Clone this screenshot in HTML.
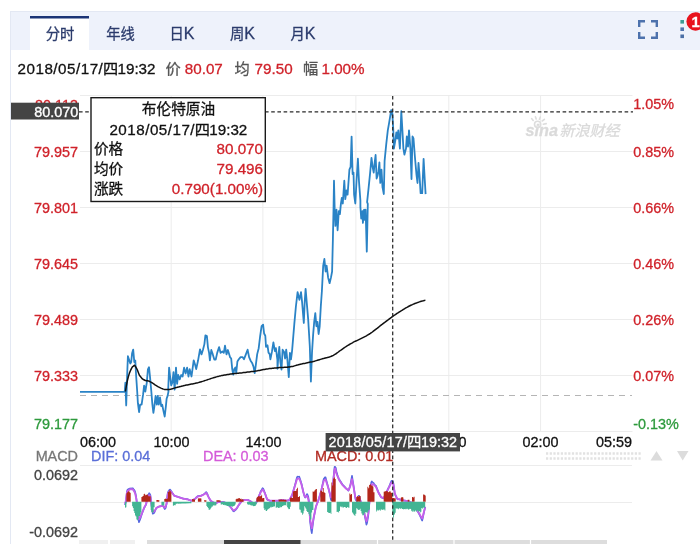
<!DOCTYPE html>
<html lang="zh"><head><meta charset="utf-8"><title>布伦特原油</title>
<style>
html,body{margin:0;padding:0;background:#fff;}
body{width:700px;height:544px;overflow:hidden;position:relative;font-family:"Liberation Sans","Noto Sans CJK SC",sans-serif;}
svg{position:absolute;left:0;top:0;display:block}
svg{font-family:"Liberation Sans","Noto Sans CJK SC",sans-serif;font-size:14.4px}
</style></head><body>
<svg width="700" height="544" viewBox="0 0 700 544">
<rect width="700" height="544" fill="#fff"/>
<!-- widget frame -->
<rect x="10.5" y="11.5" width="700" height="540" fill="#fff" stroke="#e3e8f3"/>
<rect x="11" y="12" width="689" height="38" fill="#eef2fb"/>
<!-- active tab -->
<rect x="30" y="16" width="59" height="35" fill="#fff"/>
<rect x="30" y="16" width="59" height="2.5" fill="#1b3476"/>
<g fill="#2b3b6c" text-anchor="middle" font-size="14.3" stroke="#2b3b6c" stroke-width="0.3">
<text x="60" y="38.8">分时</text>
<text x="120.5" y="38.8">年线</text>
<text x="182" y="38.8">日<tspan font-size="16">K</tspan></text>
<text x="242.5" y="38.8">周<tspan font-size="16">K</tspan></text>
<text x="303" y="38.8">月<tspan font-size="16">K</tspan></text>
</g>
<!-- fullscreen icon -->
<g fill="none" stroke="#4d72ad" stroke-width="2.4">
<path d="M639.2,27 V21.2 H645"/><path d="M651,21.2 H656.8 V27"/>
<path d="M639.2,32 V37.8 H645"/><path d="M651,37.8 H656.8 V32"/>
</g>
<rect x="680.4" y="20" width="3.6" height="3.6" fill="#3f9c94"/>
<rect x="680.4" y="27.4" width="3.6" height="3.6" fill="#5274ad"/>
<rect x="680.4" y="34.5" width="3.6" height="3.6" fill="#4c70a6"/>
<circle cx="695.6" cy="21.5" r="9.2" fill="#e8131d"/>
<text x="695.6" y="27" font-weight="bold" font-size="14.8" fill="#fff" text-anchor="middle" stroke="#fff" stroke-width="0.3">1</text>
<!-- info line -->
<g font-size="15.2">
<g font-size="15.2" fill="#111" stroke="#111" stroke-width="0.3"><text x="17.6" y="73.5" textLength="85.2" lengthAdjust="spacing">2018/05/17/</text><text x="102.9" y="73.5">四</text><text x="117.5" y="73.5">19:32</text></g>
<text x="165.5" y="73.5" fill="#555" stroke="#555" stroke-width="0.3">价</text>
<text x="184.8" y="73.5" fill="#d0222a" stroke="#d0222a" stroke-width="0.3">80.07</text>
<text x="234.5" y="73.5" fill="#555" stroke="#555" stroke-width="0.3">均</text>
<text x="254.6" y="73.5" fill="#d0222a" stroke="#d0222a" stroke-width="0.3">79.50</text>
<text x="303" y="73.5" fill="#555" stroke="#555" stroke-width="0.3">幅</text>
<text x="321.5" y="73.5" fill="#d0222a" stroke="#d0222a" stroke-width="0.3">1.00%</text>
</g>
<!-- grid -->
<g stroke="#ececec" stroke-width="1" fill="none">
<path d="M80,95.5H632.5 M80,151.5H632.5 M80,207.5H632.5 M80,263.5H632.5 M80,319.5H632.5 M80,375.5H632.5 M80,431.5H632.5"/>
<path d="M171.2,95V432 M262.9,95V432 M355.9,95V432 M448.8,95V432 M540.6,95V432"/>
<path d="M80,465.5H632 M80,502.5H632"/>
</g>
<!-- prev close dashed -->
<path d="M80,395.5H632" stroke="#b5b5b5" stroke-width="1.2" stroke-dasharray="6,5" fill="none"/>
<!-- left axis labels -->
<g fill="#d0222a" text-anchor="end" stroke="#d0222a" stroke-width="0.3">
<text x="78" y="110">80.113</text>
<text x="78" y="157.3">79.957</text>
<text x="78" y="213.2">79.801</text>
<text x="78" y="269.2">79.645</text>
<text x="78" y="325.2">79.489</text>
<text x="78" y="381.2">79.333</text>
<text x="78" y="428.9" fill="#2d9a3c" stroke="#2d9a3c" stroke-width="0.3">79.177</text>
</g>
<g fill="#d0222a" stroke="#d0222a" stroke-width="0.3">
<text x="633.3" y="109.3">1.05%</text>
<text x="633.3" y="157.3">0.85%</text>
<text x="633.3" y="213.2">0.66%</text>
<text x="633.3" y="269.2">0.46%</text>
<text x="633.3" y="325.2">0.26%</text>
<text x="633.3" y="381.2">0.07%</text>
<text x="633.3" y="428.9" fill="#2d9a3c" stroke="#2d9a3c" stroke-width="0.3">-0.13%</text>
</g>
<!-- time labels -->
<g fill="#111" stroke="#111" stroke-width="0.3">
<text x="80" y="446.7">06:00</text>
<text x="171.5" y="446.7" text-anchor="middle">10:00</text>
<text x="263.5" y="446.7" text-anchor="middle">14:00</text>
<text x="355.5" y="446.7" text-anchor="middle">18:00</text>
<text x="448.5" y="446.7" text-anchor="middle">22:00</text>
<text x="540.5" y="446.7" text-anchor="middle">02:00</text>
<text x="632" y="446.7" text-anchor="end">05:59</text>
</g>
<!-- watermark -->
<g fill="#dadada" stroke="#dadada" stroke-width="0.3">
<text x="525.5" y="136" font-size="17" font-weight="bold" font-style="italic" textLength="32.5" lengthAdjust="spacingAndGlyphs">sina</text>
<text x="559.5" y="136.3" font-size="15" transform="translate(560 136.3) skewX(-14) translate(-560 -136.3)">新浪财经</text>
</g>
<g fill="none" stroke="#dddddd" stroke-width="1.6" stroke-linecap="round">
<circle cx="537.6" cy="124.3" r="3.1"/>
<path d="M533.2,120.5 L531.6,118.6 M536.2,119 L535.4,116.8 M539.4,119.2 L540.3,117 M542.2,121 L544.4,119.3 M543.3,124.2 L546.2,123.6"/>
</g>
<!-- MACD legend -->
<text x="78" y="460.6" text-anchor="end" fill="#777" stroke="#777" stroke-width="0.3">MACD</text>
<text x="91" y="460.6" fill="#5a6fd8" stroke="#5a6fd8" stroke-width="0.3">DIF: 0.04</text>
<text x="203" y="460.6" fill="#d45bd9" stroke="#d45bd9" stroke-width="0.3">DEA: 0.03</text>
<text x="315" y="460.6" fill="#b22a22" stroke="#b22a22" stroke-width="0.3">MACD: 0.01</text>
<text x="78" y="480" text-anchor="end" fill="#444" stroke="#444" stroke-width="0.3">0.0692</text>
<text x="78" y="537" text-anchor="end" fill="#444" stroke="#444" stroke-width="0.3">-0.0692</text>
<!-- dotted handle + arrows -->
<path d="M546,453.5H641 M546,458.5H641" stroke="#e2e2e2" stroke-width="2.4" stroke-dasharray="2.2,1.5" fill="none"/>
<path d="M650.5,460.5 L656.5,451 L662.5,460.5Z" fill="#dcdcdc"/>
<path d="M677,451 L688.5,451 L682.7,460.5Z" fill="#dcdcdc"/>
<!-- MACD bars -->
<path d="M124.6,504.7 L125.2,504.0 L125.8,502.6 L126.4,496.9 L127.0,491.2 L127.6,489.6 L128.2,489.3 L128.8,489.0 L129.4,488.7 L130.0,488.4 L130.6,488.5 L131.2,488.5 L131.8,488.4 L132.4,488.3 L133.0,488.4 L133.6,489.3 L134.2,490.1 L134.8,490.9 L135.4,493.0 L136.0,495.8 L136.6,500.1 L137.2,506.0 L137.8,514.1 L138.4,519.1 L139.0,522.3 L139.6,520.8 L140.2,519.3 L140.8,517.4 L141.4,515.5 L142.0,513.8 L142.6,512.1 L143.2,510.5 L143.8,509.0 L144.4,507.5 L145.0,506.5 L145.6,505.4 L146.2,504.1 L146.8,500.2 L147.4,496.1 L148.0,495.1 L148.6,494.2 L149.2,493.2 L149.8,494.0 L150.4,495.1 L151.0,500.0 L151.6,506.0 L152.2,510.9 L152.8,513.8 L153.4,513.4 L154.0,513.0 L154.6,512.0 L155.2,510.5 L155.8,509.2 L156.4,507.9 L157.0,507.6 L157.6,507.3 L158.2,507.0 L158.8,506.7 L159.4,506.5 L160.0,506.4 L160.6,506.2 L161.2,506.1 L161.8,505.9 L162.4,505.8 L163.0,506.0 L163.6,506.9 L164.2,508.0 L164.8,509.1 L165.4,508.4 L166.0,506.7 L166.6,503.9 L167.2,498.2 L167.8,492.5 L168.4,491.3 L169.0,490.6 L169.6,489.8 L170.2,489.6 L170.8,490.5 L171.4,491.4 L172.0,492.1 L172.6,493.1 L173.2,494.0 L173.8,495.0 L174.4,495.8 L175.0,495.9 L175.6,496.1 L176.2,496.2 L176.8,496.4 L177.4,496.6 L178.0,496.8 L178.6,497.0 L179.2,497.2 L179.8,497.4 L180.4,497.6 L181.0,497.8 L181.6,498.0 L182.2,498.2 L182.8,498.5 L183.4,498.6 L184.0,498.7 L184.6,498.8 L185.2,498.8 L185.8,498.9 L186.4,499.0 L187.0,499.1 L187.6,499.3 L188.2,499.5 L188.8,499.8 L189.4,500.0 L190.0,500.3 L190.6,500.5 L191.2,500.8 L191.8,500.7 L192.4,500.3 L193.0,500.0 L193.6,499.6 L194.2,499.3 L194.8,498.8 L195.4,498.3 L196.0,497.7 L196.6,497.2 L197.2,496.6 L197.8,496.1 L198.4,496.0 L199.0,495.9 L199.6,495.8 L200.2,495.7 L200.8,495.7 L201.4,495.6 L202.0,495.2 L202.6,494.9 L203.2,494.6 L203.8,494.2 L204.4,493.8 L205.0,493.2 L205.6,492.6 L206.2,492.0 L206.8,492.7 L207.4,494.1 L208.0,495.6 L208.6,497.0 L209.2,498.2 L209.8,499.3 L210.4,500.4 L211.0,501.1 L211.6,501.5 L212.2,501.9 L212.8,502.3 L213.4,502.6 L214.0,502.9 L214.6,503.3 L215.2,503.8 L215.8,503.4 L216.4,503.0 L217.0,502.6 L217.6,502.2 L218.2,502.1 L218.8,502.1 L219.4,502.1 L220.0,502.1 L220.6,502.1 L221.2,502.1 L221.8,502.1 L222.4,502.1 L223.0,502.1 L223.6,502.1 L224.2,502.3 L224.8,502.6 L225.4,502.8 L226.0,503.1 L226.6,503.3 L227.2,503.5 L227.8,504.2 L228.4,504.9 L229.0,505.5 L229.6,506.1 L230.2,506.8 L230.8,507.4 L231.4,508.3 L232.0,509.2 L232.6,510.1 L233.2,511.1 L233.8,511.4 L234.4,510.8 L235.0,510.3 L235.6,509.8 L236.2,509.3 L236.8,508.5 L237.4,507.4 L238.0,506.4 L238.6,505.4 L239.2,504.5 L239.8,503.6 L240.4,502.8 L241.0,502.0 L241.6,501.1 L242.2,500.4 L242.8,500.3 L243.4,500.2 L244.0,500.1 L244.6,499.9 L245.2,499.8 L245.8,499.8 L246.4,499.8 L247.0,499.8 L247.6,499.8 L248.2,500.0 L248.8,500.3 L249.4,500.6 L250.0,501.0 L250.6,501.3 L251.2,501.8 L251.8,502.3 L252.4,502.9 L253.0,503.5 L253.6,504.0 L254.2,503.7 L254.8,503.4 L255.4,503.1 L256.0,502.9 L256.6,502.2 L257.2,500.6 L257.8,499.0 L258.4,497.5 L259.0,495.9 L259.6,494.3 L260.2,492.7 L260.8,491.1 L261.4,490.2 L262.0,489.2 L262.6,488.2 L263.2,488.6 L263.8,490.1 L264.4,491.6 L265.0,493.0 L265.6,494.9 L266.2,496.8 L266.8,498.7 L267.4,499.9 L268.0,500.0 L268.6,500.3 L269.2,500.5 L269.8,500.8 L270.4,500.8 L271.0,500.8 L271.6,500.7 L272.2,500.7 L272.8,500.7 L273.4,500.7 L274.0,500.7 L274.6,500.7 L275.2,500.7 L275.8,500.7 L276.4,500.7 L277.0,500.7 L277.6,500.7 L278.2,500.7 L278.8,500.5 L279.4,500.4 L280.0,500.3 L280.6,500.2 L281.2,500.0 L281.8,499.9 L282.4,499.9 L283.0,500.0 L283.6,500.2 L284.2,500.3 L284.8,500.4 L285.4,500.6 L286.0,500.7 L286.6,500.8 L287.2,500.6 L287.8,500.5 L288.4,500.5 L289.0,500.4 L289.6,499.8 L290.2,498.6 L290.8,497.5 L291.4,496.5 L292.0,495.4 L292.6,493.5 L293.2,491.4 L293.8,489.3 L294.4,487.1 L295.0,484.9 L295.6,482.7 L296.2,480.3 L296.8,477.9 L297.4,476.6 L298.0,476.7 L298.6,476.7 L299.2,476.6 L299.8,478.3 L300.4,480.1 L301.0,481.9 L301.6,483.9 L302.2,486.7 L302.8,489.5 L303.4,492.3 L304.0,494.6 L304.6,496.6 L305.2,497.6 L305.8,496.5 L306.4,495.3 L307.0,494.0 L307.6,494.9 L308.2,496.5 L308.8,500.1 L309.4,506.7 L310.0,521.2 L310.6,525.6 L311.2,530.1 L311.8,533.2 L312.4,528.2 L313.0,523.3 L313.6,518.9 L314.2,515.5 L314.8,512.3 L315.4,509.2 L316.0,506.2 L316.6,504.7 L317.2,503.2 L317.8,501.7 L318.4,500.2 L319.0,498.3 L319.6,496.2 L320.2,494.2 L320.8,492.0 L321.4,489.7 L322.0,487.0 L322.6,484.2 L323.2,481.3 L323.8,478.7 L324.4,478.1 L325.0,477.3 L325.6,477.4 L326.2,479.7 L326.8,481.9 L327.4,484.1 L328.0,486.4 L328.6,488.8 L329.2,491.4 L329.8,494.0 L330.4,497.0 L331.0,500.1 L331.6,500.3 L332.2,493.1 L332.8,485.8 L333.4,478.7 L334.0,471.9 L334.6,466.8 L335.2,466.8 L335.8,467.8 L336.4,471.2 L337.0,473.6 L337.6,475.4 L338.2,477.1 L338.8,478.6 L339.4,479.8 L340.0,480.6 L340.6,481.5 L341.2,482.5 L341.8,483.4 L342.4,484.3 L343.0,485.0 L343.6,485.6 L344.2,486.2 L344.8,486.9 L345.4,487.5 L346.0,488.2 L346.6,488.8 L347.2,489.3 L347.8,490.0 L348.4,490.7 L349.0,489.5 L349.6,487.6 L350.2,485.6 L350.8,482.5 L351.4,479.1 L352.0,475.7 L352.6,479.5 L353.2,483.3 L353.8,487.1 L354.4,491.7 L355.0,496.2 L355.6,499.6 L356.2,500.4 L356.8,501.1 L357.4,500.6 L358.0,498.1 L358.6,495.8 L359.2,496.0 L359.8,498.1 L360.4,500.2 L361.0,502.8 L361.6,505.6 L362.2,508.4 L362.8,510.1 L363.4,511.7 L364.0,513.5 L364.6,515.3 L365.2,518.0 L365.8,521.3 L366.4,524.7 L367.0,523.2 L367.6,519.8 L368.2,516.4 L368.8,509.7 L369.4,502.4 L370.0,495.1 L370.6,488.9 L371.2,482.7 L371.8,481.4 L372.4,482.0 L373.0,482.5 L373.6,483.0 L374.2,483.9 L374.8,484.7 L375.4,485.3 L376.0,485.9 L376.6,487.5 L377.2,489.1 L377.8,490.6 L378.4,492.2 L379.0,493.5 L379.6,494.5 L380.2,495.6 L380.8,496.8 L381.4,497.5 L382.0,497.7 L382.6,498.0 L383.2,498.3 L383.8,498.4 L384.4,496.9 L385.0,495.5 L385.6,494.1 L386.2,492.8 L386.8,491.5 L387.4,490.2 L388.0,488.9 L388.6,487.6 L389.2,486.3 L389.8,484.9 L390.4,483.4 L391.0,481.8 L391.6,480.7 L392.2,480.9 L392.8,481.1 L393.4,483.2 L394.0,487.7 L394.6,492.2 L395.2,494.8 L395.8,496.0 L396.4,497.3 L397.0,498.5 L397.6,499.4 L398.2,499.3 L398.8,499.3 L399.4,499.4 L400.0,499.5 L400.6,499.6 L401.2,499.7 L401.8,499.9 L402.4,500.0 L403.0,500.2 L403.6,500.4 L404.2,500.5 L404.8,500.6 L405.4,500.8 L406.0,500.9 L406.6,501.0 L407.2,501.1 L407.8,501.2 L408.4,501.3 L409.0,501.5 L409.6,501.8 L410.2,502.0 L410.8,502.3 L411.4,502.4 L412.0,502.6 L412.6,502.8 L413.2,503.5 L413.8,504.6 L414.4,505.6 L415.0,506.7 L415.6,507.7 L416.2,508.7 L416.8,509.7 L417.4,510.8 L418.0,511.9 L418.6,513.0 L419.2,514.2 L419.8,515.4 L420.4,516.7 L421.0,518.0 L421.6,519.3 L422.2,520.6 L422.8,518.1 L423.4,515.0 L424.0,512.0 L424.6,509.3 L425.2,506.7" fill="none" stroke="#5566e0" stroke-width="1.6" stroke-linejoin="round"/>
<path d="M124.6,503.5 L125.2,502.8 L125.8,501.5 L126.4,497.0 L127.0,492.5 L127.6,491.1 L128.2,490.6 L128.8,490.2 L129.4,489.7 L130.0,489.3 L130.6,489.3 L131.2,489.3 L131.8,489.3 L132.4,489.3 L133.0,489.5 L133.6,490.5 L134.2,491.5 L134.8,492.5 L135.4,494.6 L136.0,497.2 L136.6,500.9 L137.2,505.7 L137.8,512.2 L138.4,516.3 L139.0,519.1 L139.6,518.2 L140.2,517.3 L140.8,516.0 L141.4,514.6 L142.0,513.2 L142.6,511.7 L143.2,510.2 L143.8,508.7 L144.4,507.2 L145.0,506.1 L145.6,505.0 L146.2,503.7 L146.8,500.5 L147.4,497.3 L148.0,496.5 L148.6,495.9 L149.2,495.2 L149.8,495.9 L150.4,496.9 L151.0,500.7 L151.6,505.4 L152.2,509.3 L152.8,511.7 L153.4,511.6 L154.0,511.5 L154.6,510.9 L155.2,509.9 L155.8,508.9 L156.4,507.9 L157.0,507.6 L157.6,507.3 L158.2,507.0 L158.8,506.7 L159.4,506.4 L160.0,506.3 L160.6,506.2 L161.2,506.0 L161.8,505.9 L162.4,505.8 L163.0,505.9 L163.6,506.5 L164.2,507.1 L164.8,507.7 L165.4,506.9 L166.0,505.4 L166.6,503.0 L167.2,498.5 L167.8,494.0 L168.4,492.8 L169.0,492.0 L169.6,491.2 L170.2,490.9 L170.8,491.5 L171.4,492.1 L172.0,492.7 L172.6,493.5 L173.2,494.3 L173.8,495.1 L174.4,495.8 L175.0,496.0 L175.6,496.2 L176.2,496.4 L176.8,496.6 L177.4,496.8 L178.0,497.0 L178.6,497.2 L179.2,497.4 L179.8,497.6 L180.4,497.8 L181.0,498.0 L181.6,498.2 L182.2,498.4 L182.8,498.6 L183.4,498.7 L184.0,498.8 L184.6,498.9 L185.2,499.0 L185.8,499.1 L186.4,499.2 L187.0,499.3 L187.6,499.4 L188.2,499.6 L188.8,499.8 L189.4,500.0 L190.0,500.2 L190.6,500.4 L191.2,500.6 L191.8,500.5 L192.4,500.2 L193.0,499.9 L193.6,499.6 L194.2,499.3 L194.8,498.9 L195.4,498.4 L196.0,497.9 L196.6,497.4 L197.2,497.0 L197.8,496.5 L198.4,496.3 L199.0,496.2 L199.6,496.1 L200.2,496.0 L200.8,495.8 L201.4,495.7 L202.0,495.4 L202.6,495.1 L203.2,494.8 L203.8,494.5 L204.4,494.2 L205.0,493.8 L205.6,493.4 L206.2,493.0 L206.8,493.6 L207.4,494.8 L208.0,496.0 L208.6,497.2 L209.2,498.2 L209.8,499.2 L210.4,500.2 L211.0,500.9 L211.6,501.3 L212.2,501.7 L212.8,502.1 L213.4,502.4 L214.0,502.7 L214.6,503.0 L215.2,503.5 L215.8,503.2 L216.4,502.9 L217.0,502.6 L217.6,502.3 L218.2,502.1 L218.8,502.1 L219.4,502.1 L220.0,502.1 L220.6,502.1 L221.2,502.1 L221.8,502.1 L222.4,502.1 L223.0,502.1 L223.6,502.2 L224.2,502.4 L224.8,502.6 L225.4,502.9 L226.0,503.1 L226.6,503.4 L227.2,503.6 L227.8,504.2 L228.4,504.8 L229.0,505.4 L229.6,506.0 L230.2,506.6 L230.8,507.2 L231.4,508.0 L232.0,508.7 L232.6,509.5 L233.2,510.2 L233.8,510.5 L234.4,510.1 L235.0,509.6 L235.6,509.2 L236.2,508.7 L236.8,508.0 L237.4,507.1 L238.0,506.2 L238.6,505.3 L239.2,504.4 L239.8,503.6 L240.4,502.9 L241.0,502.1 L241.6,501.4 L242.2,500.7 L242.8,500.6 L243.4,500.4 L244.0,500.3 L244.6,500.1 L245.2,500.0 L245.8,500.0 L246.4,500.0 L247.0,500.0 L247.6,500.0 L248.2,500.2 L248.8,500.5 L249.4,500.8 L250.0,501.1 L250.6,501.4 L251.2,501.8 L251.8,502.2 L252.4,502.7 L253.0,503.1 L253.6,503.6 L254.2,503.3 L254.8,503.0 L255.4,502.7 L256.0,502.4 L256.6,501.7 L257.2,500.3 L257.8,498.9 L258.4,497.5 L259.0,496.1 L259.6,494.7 L260.2,493.3 L260.8,492.0 L261.4,491.2 L262.0,490.4 L262.6,489.6 L263.2,490.0 L263.8,491.2 L264.4,492.4 L265.0,493.6 L265.6,495.2 L266.2,496.8 L266.8,498.4 L267.4,499.4 L268.0,499.7 L268.6,500.0 L269.2,500.3 L269.8,500.6 L270.4,500.7 L271.0,500.7 L271.6,500.7 L272.2,500.7 L272.8,500.7 L273.4,500.7 L274.0,500.7 L274.6,500.7 L275.2,500.7 L275.8,500.7 L276.4,500.7 L277.0,500.7 L277.6,500.7 L278.2,500.7 L278.8,500.6 L279.4,500.5 L280.0,500.4 L280.6,500.3 L281.2,500.2 L281.8,500.1 L282.4,500.0 L283.0,500.1 L283.6,500.2 L284.2,500.3 L284.8,500.4 L285.4,500.5 L286.0,500.6 L286.6,500.7 L287.2,500.5 L287.8,500.4 L288.4,500.2 L289.0,500.1 L289.6,499.5 L290.2,498.4 L290.8,497.4 L291.4,496.3 L292.0,495.3 L292.6,493.5 L293.2,491.6 L293.8,489.6 L294.4,487.7 L295.0,485.7 L295.6,483.7 L296.2,481.7 L296.8,479.7 L297.4,478.6 L298.0,478.6 L298.6,478.6 L299.2,478.6 L299.8,479.9 L300.4,481.5 L301.0,483.1 L301.6,485.0 L302.2,487.4 L302.8,489.8 L303.4,492.2 L304.0,494.1 L304.6,495.9 L305.2,497.0 L305.8,496.6 L306.4,496.2 L307.0,495.8 L307.6,497.1 L308.2,498.9 L308.8,502.0 L309.4,507.4 L310.0,518.6 L310.6,522.2 L311.2,525.8 L311.8,528.3 L312.4,524.7 L313.0,521.1 L313.6,517.8 L314.2,515.0 L314.8,512.2 L315.4,509.4 L316.0,506.6 L316.6,505.0 L317.2,503.4 L317.8,501.8 L318.4,500.2 L319.0,498.3 L319.6,496.3 L320.2,494.3 L320.8,492.3 L321.4,490.1 L322.0,487.7 L322.6,485.3 L323.2,482.9 L323.8,480.8 L324.4,480.2 L325.0,479.6 L325.6,479.7 L326.2,481.5 L326.8,483.3 L327.4,485.1 L328.0,487.1 L328.6,489.1 L329.2,491.1 L329.8,493.2 L330.4,495.3 L331.0,497.4 L331.6,497.2 L332.2,491.5 L332.8,485.8 L333.4,480.3 L334.0,474.9 L334.6,469.5 L335.2,468.5 L335.8,470.9 L336.4,473.3 L337.0,475.0 L337.6,476.4 L338.2,477.8 L338.8,479.2 L339.4,480.4 L340.0,481.3 L340.6,482.2 L341.2,483.1 L341.8,484.0 L342.4,484.9 L343.0,485.6 L343.6,486.2 L344.2,486.8 L344.8,487.4 L345.4,488.0 L346.0,488.6 L346.6,489.0 L347.2,489.4 L347.8,489.8 L348.4,490.2 L349.0,489.2 L349.6,487.7 L350.2,486.2 L350.8,483.9 L351.4,481.5 L352.0,479.1 L352.6,482.1 L353.2,485.1 L353.8,488.2 L354.4,491.8 L355.0,495.4 L355.6,498.3 L356.2,499.2 L356.8,500.1 L357.4,499.9 L358.0,498.4 L358.6,496.9 L359.2,497.3 L359.8,499.1 L360.4,500.9 L361.0,503.1 L361.6,505.5 L362.2,507.9 L362.8,509.7 L363.4,511.3 L364.0,512.9 L364.6,514.5 L365.2,516.5 L365.8,518.9 L366.4,521.3 L367.0,519.9 L367.6,516.9 L368.2,513.9 L368.8,508.3 L369.4,502.3 L370.0,496.3 L370.6,491.0 L371.2,485.8 L371.8,484.3 L372.4,484.3 L373.0,484.3 L373.6,484.5 L374.2,485.1 L374.8,485.7 L375.4,486.3 L376.0,486.9 L376.6,488.3 L377.2,489.7 L377.8,491.1 L378.4,492.5 L379.0,493.6 L379.6,494.6 L380.2,495.6 L380.8,496.6 L381.4,497.2 L382.0,497.4 L382.6,497.6 L383.2,497.8 L383.8,497.8 L384.4,496.6 L385.0,495.4 L385.6,494.2 L386.2,493.0 L386.8,491.8 L387.4,490.6 L388.0,489.4 L388.6,488.2 L389.2,487.0 L389.8,485.8 L390.4,484.6 L391.0,483.4 L391.6,482.7 L392.2,483.0 L392.8,483.3 L393.4,485.0 L394.0,488.6 L394.6,492.2 L395.2,494.4 L395.8,495.6 L396.4,496.8 L397.0,498.0 L397.6,498.9 L398.2,499.1 L398.8,499.2 L399.4,499.4 L400.0,499.5 L400.6,499.7 L401.2,499.8 L401.8,500.0 L402.4,500.1 L403.0,500.3 L403.6,500.4 L404.2,500.6 L404.8,500.7 L405.4,500.8 L406.0,500.9 L406.6,501.0 L407.2,501.2 L407.8,501.3 L408.4,501.4 L409.0,501.6 L409.6,501.8 L410.2,502.1 L410.8,502.3 L411.4,502.6 L412.0,502.8 L412.6,503.0 L413.2,503.7 L413.8,504.7 L414.4,505.6 L415.0,506.6 L415.6,507.5 L416.2,508.5 L416.8,509.5 L417.4,510.4 L418.0,511.5 L418.6,512.5 L419.2,513.6 L419.8,514.6 L420.4,515.7 L421.0,516.6 L421.6,517.5 L422.2,518.4 L422.8,516.5 L423.4,514.1 L424.0,511.7 L424.6,509.6 L425.2,507.4" fill="none" stroke="#c560ea" stroke-width="1.9" stroke-linejoin="round"/>
<path d="M126.4,501.8 L126.4,493.2 L127.1,493.2 L127.1,492.3 L127.9,492.3 L127.9,491.4 L128.6,491.4 L128.6,501.8Z M128.6,501.8 L128.6,491.1 L129.3,491.1 L129.3,492.3 L130.0,492.3 L130.0,492.7 L130.7,492.7 L130.7,501.8Z M141.4,501.8 L141.4,497.1 L142.1,497.1 L142.1,496.6 L142.9,496.6 L142.9,496.1 L143.6,496.1 L143.6,501.8Z M143.6,501.8 L143.6,494.3 L144.3,494.3 L144.3,493.8 L145.0,493.8 L145.0,495.2 L145.7,495.2 L145.7,494.6 L146.4,494.6 L146.4,494.9 L147.1,494.9 L147.1,494.4 L147.9,494.4 L147.9,501.8Z M147.9,501.8 L147.9,495.8 L148.6,495.8 L148.6,496.5 L149.3,496.5 L149.3,496.3 L150.0,496.3 L150.0,496.2 L150.7,496.2 L150.7,501.8Z M156.4,501.8 L156.4,499.9 L157.1,499.9 L157.1,499.9 L157.9,499.9 L157.9,500.2 L158.6,500.2 L158.6,499.9 L159.3,499.9 L159.3,501.8Z M164.3,501.8 L164.3,498.9 L165.0,498.9 L165.0,498.6 L165.7,498.6 L165.7,498.9 L166.4,498.9 L166.4,499.0 L167.1,499.0 L167.1,498.4 L167.9,498.4 L167.9,501.8Z M167.9,501.8 L167.9,491.8 L168.6,491.8 L168.6,491.9 L169.3,491.9 L169.3,490.3 L170.0,490.3 L170.0,490.7 L170.7,490.7 L170.7,492.2 L171.4,492.2 L171.4,501.8Z M192.1,501.8 L192.1,499.1 L192.9,499.1 L192.9,499.3 L193.6,499.3 L193.6,499.3 L194.3,499.3 L194.3,499.5 L195.0,499.5 L195.0,501.8Z M197.9,501.8 L197.9,498.3 L198.6,498.3 L198.6,498.4 L199.3,498.4 L199.3,498.2 L200.0,498.2 L200.0,498.2 L200.7,498.2 L200.7,498.6 L201.4,498.6 L201.4,501.8Z M204.3,501.8 L204.3,500.1 L205.0,500.1 L205.0,500.2 L205.7,500.2 L205.7,500.2 L206.4,500.2 L206.4,501.8Z M216.4,501.8 L216.4,500.2 L217.1,500.2 L217.1,500.2 L217.9,500.2 L217.9,500.1 L218.6,500.1 L218.6,500.4 L219.3,500.4 L219.3,500.2 L220.0,500.2 L220.0,500.4 L220.7,500.4 L220.7,501.8Z M235.7,501.8 L235.7,499.3 L236.4,499.3 L236.4,498.7 L237.1,498.7 L237.1,498.7 L237.9,498.7 L237.9,498.5 L238.6,498.5 L238.6,498.1 L239.3,498.1 L239.3,501.8Z M239.3,501.8 L239.3,498.2 L240.0,498.2 L240.0,499.0 L240.7,499.0 L240.7,498.6 L241.4,498.6 L241.4,499.4 L242.1,499.4 L242.1,499.3 L242.9,499.3 L242.9,499.5 L243.6,499.5 L243.6,501.8Z M256.4,501.8 L256.4,497.8 L257.1,497.8 L257.1,497.0 L257.9,497.0 L257.9,501.8Z M257.9,501.8 L257.9,496.3 L258.6,496.3 L258.6,495.9 L259.3,495.9 L259.3,496.5 L260.0,496.5 L260.0,496.3 L260.7,496.3 L260.7,496.0 L261.4,496.0 L261.4,494.8 L262.1,494.8 L262.1,501.8Z M262.1,501.8 L262.1,498.3 L262.9,498.3 L262.9,498.0 L263.6,498.0 L263.6,498.0 L264.3,498.0 L264.3,501.8Z M272.1,501.8 L272.1,499.9 L272.9,499.9 L272.9,500.1 L273.6,500.1 L273.6,500.1 L274.3,500.1 L274.3,500.0 L275.0,500.0 L275.0,501.8Z M278.6,501.8 L278.6,499.5 L279.4,499.5 L279.4,499.8 L280.1,499.8 L280.1,499.6 L280.9,499.6 L280.9,499.5 L281.7,499.5 L281.7,499.5 L282.5,499.5 L282.5,499.9 L283.3,499.9 L283.3,499.5 L284.1,499.5 L284.1,499.9 L284.9,499.9 L284.9,499.8 L285.6,499.8 L285.6,499.7 L286.4,499.7 L286.4,501.8Z M290.0,501.8 L290.0,497.6 L290.7,497.6 L290.7,498.1 L291.4,498.1 L291.4,497.6 L292.1,497.6 L292.1,497.9 L292.9,497.9 L292.9,501.8Z M292.9,501.8 L292.9,491.4 L293.6,491.4 L293.6,491.1 L294.3,491.1 L294.3,491.1 L295.0,491.1 L295.0,491.1 L295.7,491.1 L295.7,490.7 L296.4,490.7 L296.4,488.9 L297.1,488.9 L297.1,487.7 L297.9,487.7 L297.9,501.8Z M297.9,501.8 L297.9,497.0 L298.6,497.0 L298.6,497.1 L299.3,497.1 L299.3,496.0 L300.0,496.0 L300.0,501.8Z M312.6,501.8 L312.6,491.4 L313.4,491.4 L313.4,491.7 L314.3,491.7 L314.3,501.8Z M314.3,501.8 L314.3,490.5 L315.1,490.5 L315.1,489.5 L316.0,489.5 L316.0,488.9 L316.9,488.9 L316.9,501.8Z M320.3,501.8 L320.3,490.7 L321.1,490.7 L321.1,490.8 L322.0,490.8 L322.0,491.8 L322.9,491.8 L322.9,501.8Z M322.9,501.8 L322.9,487.9 L323.7,487.9 L323.7,492.2 L324.6,492.2 L324.6,493.0 L325.4,493.0 L325.4,501.8Z M331.4,501.8 L331.4,482.6 L332.3,482.6 L332.3,485.5 L333.1,485.5 L333.1,501.8Z M333.1,501.8 L333.1,478.4 L334.0,478.4 L334.0,477.4 L334.9,477.4 L334.9,479.1 L335.7,479.1 L335.7,501.8Z M349.4,501.8 L349.4,493.4 L350.3,493.4 L350.3,494.7 L351.1,494.7 L351.1,494.1 L352.0,494.1 L352.0,501.8Z M356.3,501.8 L356.3,496.9 L357.0,496.9 L357.0,496.0 L357.7,496.0 L357.7,496.7 L358.4,496.7 L358.4,496.5 L359.1,496.5 L359.1,495.8 L359.9,495.8 L359.9,496.0 L360.6,496.0 L360.6,501.8Z M367.4,501.8 L367.4,486.7 L368.3,486.7 L368.3,488.3 L369.1,488.3 L369.1,501.8Z M369.1,501.8 L369.1,484.9 L369.9,484.9 L369.9,484.0 L370.6,484.0 L370.6,485.0 L371.3,485.0 L371.3,485.8 L372.0,485.8 L372.0,485.4 L372.7,485.4 L372.7,486.5 L373.4,486.5 L373.4,501.8Z M373.4,501.8 L373.4,492.2 L374.5,492.2 L374.5,501.8Z M383.7,501.8 L383.7,491.8 L384.6,491.8 L384.6,491.2 L385.4,491.2 L385.4,491.3 L386.3,491.3 L386.3,490.9 L387.1,490.9 L387.1,501.8Z M387.1,501.8 L387.1,491.2 L387.9,491.2 L387.9,492.2 L388.6,492.2 L388.6,492.1 L389.3,492.1 L389.3,491.2 L390.1,491.2 L390.1,491.4 L390.8,491.4 L390.8,492.9 L391.6,492.9 L391.6,492.4 L392.3,492.4 L392.3,501.8Z M392.3,501.8 L392.3,497.9 L393.1,497.9 L393.1,498.1 L394.0,498.1 L394.0,498.2 L394.9,498.2 L394.9,498.2 L395.7,498.2 L395.7,501.8Z M400.9,501.8 L400.9,497.4 L401.7,497.4 L401.7,497.1 L402.6,497.1 L402.6,497.5 L403.4,497.5 L403.4,501.8Z M407.7,501.8 L407.7,499.8 L408.6,499.8 L408.6,499.7 L409.4,499.7 L409.4,501.8Z M412.0,501.8 L412.0,497.1 L412.9,497.1 L412.9,497.5 L413.7,497.5 L413.7,496.8 L414.6,496.8 L414.6,501.8Z M423.1,501.8 L423.1,494.6 L424.0,494.6 L424.0,494.7 L424.9,494.7 L424.9,495.6 L425.7,495.6 L425.7,501.8Z " fill="#b3261a"/>
<path d="M125.0,501.8 L125.0,507.7 L125.7,507.7 L125.7,507.3 L126.4,507.3 L126.4,501.8Z M132.1,501.8 L132.1,506.2 L132.9,506.2 L132.9,508.1 L133.6,508.1 L133.6,511.0 L134.3,511.0 L134.3,512.9 L135.0,512.9 L135.0,515.6 L135.7,515.6 L135.7,516.4 L136.4,516.4 L136.4,519.6 L137.1,519.6 L137.1,501.8Z M137.1,501.8 L137.1,520.3 L137.9,520.3 L137.9,519.1 L138.6,519.1 L138.6,515.9 L139.3,515.9 L139.3,515.9 L140.0,515.9 L140.0,514.4 L140.7,514.4 L140.7,512.3 L141.4,512.3 L141.4,501.8Z M150.7,501.8 L150.7,510.1 L151.4,510.1 L151.4,512.1 L152.1,512.1 L152.1,513.0 L152.9,513.0 L152.9,501.8Z M152.9,501.8 L152.9,511.9 L153.7,511.9 L153.7,507.2 L154.6,507.2 L154.6,501.8Z M161.4,501.8 L161.4,505.2 L162.1,505.2 L162.1,505.5 L162.9,505.5 L162.9,505.3 L163.6,505.3 L163.6,505.7 L164.3,505.7 L164.3,501.8Z M172.9,501.8 L172.9,505.7 L173.6,505.7 L173.6,505.5 L174.3,505.5 L174.3,504.9 L175.0,504.9 L175.0,505.2 L175.7,505.2 L175.7,501.8Z M175.7,501.8 L175.7,503.7 L176.5,503.7 L176.5,503.7 L177.3,503.7 L177.3,503.6 L178.1,503.6 L178.1,503.7 L178.9,503.7 L178.9,503.7 L179.6,503.7 L179.6,503.6 L180.4,503.6 L180.4,503.7 L181.2,503.7 L181.2,503.4 L182.0,503.4 L182.0,503.4 L182.8,503.4 L182.8,503.5 L183.6,503.5 L183.6,503.6 L184.4,503.6 L184.4,503.4 L185.1,503.4 L185.1,503.6 L185.9,503.6 L185.9,503.5 L186.7,503.5 L186.7,503.3 L187.5,503.3 L187.5,503.4 L188.3,503.4 L188.3,503.3 L189.1,503.3 L189.1,503.3 L189.9,503.3 L189.9,503.3 L190.6,503.3 L190.6,503.3 L191.4,503.3 L191.4,501.8Z M206.4,501.8 L206.4,505.9 L207.1,505.9 L207.1,507.0 L207.9,507.0 L207.9,507.9 L208.6,507.9 L208.6,509.8 L209.3,509.8 L209.3,501.8Z M209.3,501.8 L209.3,509.7 L210.0,509.7 L210.0,509.2 L210.7,509.2 L210.7,508.1 L211.4,508.1 L211.4,506.7 L212.1,506.7 L212.1,506.5 L212.9,506.5 L212.9,501.8Z M212.9,501.8 L212.9,505.2 L213.5,505.2 L213.5,505.5 L214.2,505.5 L214.2,505.4 L214.9,505.4 L214.9,501.8Z M215.0,501.8 L215.0,505.5 L215.7,505.5 L215.7,505.3 L216.4,505.3 L216.4,501.8Z M220.7,501.8 L220.7,504.5 L221.5,504.5 L221.5,504.4 L222.2,504.4 L222.2,504.3 L223.0,504.3 L223.0,504.9 L223.8,504.9 L223.8,504.7 L224.5,504.7 L224.5,505.2 L225.3,505.2 L225.3,505.2 L226.0,505.2 L226.0,505.5 L226.8,505.5 L226.8,506.0 L227.6,506.0 L227.6,506.1 L228.3,506.1 L228.3,505.9 L229.1,505.9 L229.1,506.4 L229.9,506.4 L229.9,506.4 L230.6,506.4 L230.6,506.3 L231.4,506.3 L231.4,506.2 L232.1,506.2 L232.1,501.8Z M232.1,501.8 L232.1,506.8 L232.9,506.8 L232.9,506.2 L233.6,506.2 L233.6,506.0 L234.3,506.0 L234.3,505.4 L235.0,505.4 L235.0,504.6 L235.7,504.6 L235.7,501.8Z M247.1,501.8 L247.1,504.2 L247.9,504.2 L247.9,504.8 L248.7,504.8 L248.7,504.4 L249.5,504.4 L249.5,504.7 L250.3,504.7 L250.3,505.2 L251.1,505.2 L251.1,505.4 L251.9,505.4 L251.9,505.3 L252.6,505.3 L252.6,505.9 L253.4,505.9 L253.4,506.3 L254.2,506.3 L254.2,506.1 L255.0,506.1 L255.0,501.8Z M255.0,501.8 L255.0,505.7 L255.9,505.7 L255.9,504.5 L256.7,504.5 L256.7,501.8Z M263.6,501.8 L263.6,508.3 L264.3,508.3 L264.3,509.9 L265.0,509.9 L265.0,509.5 L265.7,509.5 L265.7,511.1 L266.4,511.1 L266.4,501.8Z M266.4,501.8 L266.4,511.0 L267.1,511.0 L267.1,509.8 L267.9,509.8 L267.9,508.7 L268.6,508.7 L268.6,509.3 L269.3,509.3 L269.3,508.1 L270.0,508.1 L270.0,507.4 L270.7,507.4 L270.7,501.8Z M270.7,501.8 L270.7,506.7 L271.4,506.7 L271.4,507.5 L272.1,507.5 L272.1,506.9 L272.9,506.9 L272.9,506.6 L273.6,506.6 L273.6,506.7 L274.3,506.7 L274.3,506.3 L275.0,506.3 L275.0,501.8Z M275.7,501.8 L275.7,507.8 L276.5,507.8 L276.5,507.5 L277.3,507.5 L277.3,507.3 L278.1,507.3 L278.1,507.9 L278.9,507.9 L278.9,507.9 L279.7,507.9 L279.7,506.8 L280.5,506.8 L280.5,507.4 L281.3,507.4 L281.3,507.0 L282.1,507.0 L282.1,501.8Z M282.1,501.8 L282.1,505.9 L282.9,505.9 L282.9,505.8 L283.6,505.8 L283.6,505.3 L284.3,505.3 L284.3,505.2 L285.0,505.2 L285.0,505.1 L285.7,505.1 L285.7,505.7 L286.4,505.7 L286.4,501.8Z M287.1,501.8 L287.1,507.2 L287.9,507.2 L287.9,508.5 L288.6,508.5 L288.6,509.2 L289.3,509.2 L289.3,501.8Z M289.3,501.8 L289.3,508.9 L290.0,508.9 L290.0,506.8 L290.7,506.8 L290.7,501.8Z M299.3,501.8 L299.3,509.5 L300.0,509.5 L300.0,509.7 L300.7,509.7 L300.7,512.4 L301.4,512.4 L301.4,512.7 L302.1,512.7 L302.1,514.7 L302.9,514.7 L302.9,501.8Z M302.9,501.8 L302.9,513.5 L303.6,513.5 L303.6,510.7 L304.3,510.7 L304.3,501.8Z M304.3,501.8 L304.3,506.3 L305.0,506.3 L305.0,507.6 L305.7,507.6 L305.7,508.8 L306.4,508.8 L306.4,510.9 L307.1,510.9 L307.1,501.8Z M307.1,501.8 L307.1,512.0 L307.8,512.0 L307.8,512.0 L308.5,512.0 L308.5,513.9 L309.2,513.9 L309.2,515.8 L309.9,515.8 L309.9,501.8Z M310.0,501.8 L310.0,519.6 L310.7,519.6 L310.7,519.5 L311.4,519.5 L311.4,501.8Z M311.4,501.8 L311.4,512.5 L312.1,512.5 L312.1,510.0 L312.7,510.0 L312.7,510.1 L313.4,510.1 L313.4,501.8Z M327.1,501.8 L327.1,512.1 L327.9,512.1 L327.9,512.6 L328.6,512.6 L328.6,513.1 L329.3,513.1 L329.3,513.1 L330.0,513.1 L330.0,512.8 L330.7,512.8 L330.7,514.1 L331.4,514.1 L331.4,501.8Z M336.6,501.8 L336.6,511.9 L337.4,511.9 L337.4,511.7 L338.3,511.7 L338.3,512.5 L339.1,512.5 L339.1,510.9 L340.0,510.9 L340.0,501.8Z M340.0,501.8 L340.0,506.6 L340.8,506.6 L340.8,507.3 L341.6,507.3 L341.6,506.5 L342.4,506.5 L342.4,507.5 L343.1,507.5 L343.1,507.4 L343.9,507.4 L343.9,507.1 L344.7,507.1 L344.7,507.0 L345.5,507.0 L345.5,507.7 L346.3,507.7 L346.3,508.0 L347.1,508.0 L347.1,507.1 L347.9,507.1 L347.9,507.6 L348.6,507.6 L348.6,507.8 L349.4,507.8 L349.4,501.8Z M352.0,501.8 L352.0,512.4 L352.9,512.4 L352.9,513.8 L353.7,513.8 L353.7,515.1 L354.6,515.1 L354.6,501.8Z M354.6,501.8 L354.6,516.1 L355.4,516.1 L355.4,513.7 L356.3,513.7 L356.3,501.8Z M356.3,501.8 L356.3,508.3 L357.0,508.3 L357.0,508.7 L357.7,508.7 L357.7,509.8 L358.4,509.8 L358.4,509.9 L359.1,509.9 L359.1,509.8 L359.9,509.8 L359.9,508.8 L360.6,508.8 L360.6,501.8Z M360.6,501.8 L360.6,511.0 L361.4,511.0 L361.4,513.4 L362.3,513.4 L362.3,515.3 L363.1,515.3 L363.1,501.8Z M363.1,501.8 L363.1,515.0 L363.9,515.0 L363.9,512.7 L364.7,512.7 L364.7,514.3 L365.4,514.3 L365.4,512.1 L366.2,512.1 L366.2,512.6 L367.0,512.6 L367.0,512.7 L367.7,512.7 L367.7,511.6 L368.5,511.6 L368.5,509.9 L369.2,509.9 L369.2,509.6 L370.0,509.6 L370.0,501.8Z M376.0,501.8 L376.0,511.4 L376.8,511.4 L376.8,509.8 L377.6,509.8 L377.6,510.7 L378.4,510.7 L378.4,510.3 L379.1,510.3 L379.1,509.8 L379.9,509.8 L379.9,510.7 L380.7,510.7 L380.7,509.5 L381.5,509.5 L381.5,509.6 L382.3,509.6 L382.3,510.1 L383.1,510.1 L383.1,509.5 L383.9,509.5 L383.9,509.4 L384.6,509.4 L384.6,510.4 L385.4,510.4 L385.4,501.8Z M392.3,501.8 L392.3,514.8 L393.1,514.8 L393.1,517.4 L394.0,517.4 L394.0,501.8Z M394.0,501.8 L394.0,514.6 L394.9,514.6 L394.9,512.7 L395.7,512.7 L395.7,501.8Z M395.7,501.8 L395.7,508.2 L396.5,508.2 L396.5,508.7 L397.3,508.7 L397.3,508.5 L398.0,508.5 L398.0,509.3 L398.8,509.3 L398.8,508.5 L399.6,508.5 L399.6,508.0 L400.3,508.0 L400.3,509.1 L401.1,509.1 L401.1,508.2 L401.9,508.2 L401.9,509.1 L402.7,509.1 L402.7,508.9 L403.4,508.9 L403.4,509.6 L404.2,509.6 L404.2,509.1 L405.0,509.1 L405.0,509.2 L405.7,509.2 L405.7,508.7 L406.5,508.7 L406.5,509.2 L407.3,509.2 L407.3,508.8 L408.1,508.8 L408.1,509.7 L408.8,509.7 L408.8,509.3 L409.6,509.3 L409.6,508.7 L410.4,508.7 L410.4,508.9 L411.1,508.9 L411.1,501.8Z M411.1,501.8 L411.1,510.8 L411.9,510.8 L411.9,511.7 L412.7,511.7 L412.7,510.5 L413.5,510.5 L413.5,511.7 L414.3,511.7 L414.3,511.6 L415.1,511.6 L415.1,510.5 L415.9,510.5 L415.9,511.8 L416.7,511.8 L416.7,510.6 L417.5,510.6 L417.5,510.7 L418.3,510.7 L418.3,511.8 L419.1,511.8 L419.1,511.0 L419.8,511.0 L419.8,512.5 L420.6,512.5 L420.6,511.7 L421.4,511.7 L421.4,501.8Z M421.4,501.8 L421.4,508.1 L422.2,508.1 L422.2,508.7 L422.9,508.7 L422.9,507.4 L423.7,507.4 L423.7,508.3 L424.4,508.3 L424.4,507.2 L425.2,507.2 L425.2,501.8Z " fill="#42b493"/>
<!-- price lines -->
<path d="M80.0,391.8 L124.7,391.8 L125.4,382.6 L126.2,405.4 L127.1,376.8 L127.9,356.2 L129.1,359.9 L130.3,363.5 L131.2,362.1 L132.1,353.2 L133.2,349.6 L134.3,362.1 L135.3,360.6 L136.2,376.8 L137.2,391.5 L137.9,403.2 L139.1,412.1 L140.1,404.7 L141.6,404.7 L143.1,394.4 L144.1,385.6 L145.3,391.5 L146.8,382.6 L147.9,369.4 L149.0,367.2 L150.0,376.8 L151.2,390.0 L152.4,404.7 L153.4,412.8 L154.4,406.2 L155.6,395.9 L156.8,404.7 L157.8,395.9 L158.8,404.7 L160.0,397.4 L161.2,406.2 L162.2,404.7 L163.7,412.1 L164.7,416.5 L165.9,406.2 L166.6,398.8 L167.6,395.9 L168.5,391.5 L168.2,389.7 L169.1,367.6 L170.1,376.5 L171.2,385.3 L172.4,382.4 L173.5,372.1 L174.6,389.7 L176.0,367.6 L177.1,383.8 L178.2,375.0 L179.7,379.4 L181.2,375.0 L182.6,376.5 L184.1,367.6 L185.6,373.5 L187.1,367.6 L188.5,376.5 L189.7,369.1 L191.5,376.5 L193.7,360.3 L195.1,364.7 L196.2,369.1 L198.1,360.3 L200.0,349.3 L201.5,354.4 L202.9,350.0 L204.4,344.1 L205.4,335.3 L206.9,336.0 L207.9,347.1 L209.1,352.9 L209.9,360.3 L211.3,350.0 L212.8,354.4 L214.3,359.6 L215.7,359.6 L217.2,352.9 L219.1,347.1 L220.6,352.9 L222.4,351.5 L223.8,352.9 L225.0,345.6 L226.5,354.4 L227.9,350.0 L229.7,355.9 L230.0,357.1 L231.2,358.5 L232.2,368.8 L233.2,374.7 L234.4,368.8 L235.6,367.4 L236.2,373.2 L237.4,361.5 L238.8,359.3 L240.6,357.1 L242.5,357.1 L244.0,359.3 L245.4,355.6 L247.6,349.7 L249.1,357.1 L250.6,360.7 L252.1,362.9 L253.5,366.6 L254.7,373.2 L255.7,365.9 L257.2,354.1 L258.7,348.2 L260.1,336.5 L261.6,326.2 L263.1,324.7 L264.1,333.5 L265.3,335.7 L266.0,346.8 L267.5,345.3 L268.5,352.6 L269.7,354.1 L270.4,359.3 L271.9,351.9 L273.4,342.4 L274.9,351.2 L275.9,348.2 L277.4,360.0 L277.5,368.8 L278.2,358.5 L279.3,346.8 L280.3,361.5 L281.5,369.6 L282.6,349.7 L284.1,351.9 L285.1,358.5 L286.2,349.7 L287.4,360.0 L288.8,377.1 L289.9,352.8 L291.0,359.4 L292.1,350.6 L294.3,324.1 L295.9,306.5 L297.6,292.1 L299.4,299.9 L301.0,292.1 L302.1,302.1 L303.8,323.0 L304.7,302.1 L305.6,288.8 L306.9,304.3 L308.2,319.7 L309.8,346.2 L310.9,381.5 L312.0,352.8 L313.1,335.1 L314.2,321.9 L315.3,313.1 L316.4,326.3 L317.5,321.9 L318.6,334.0 L319.7,326.3 L320.8,306.5 L321.9,291.0 L323.2,265.6 L324.4,259.0 L325.6,271.5 L326.6,265.6 L328.1,277.4 L329.6,283.2 L331.0,277.4 L332.1,271.5 L332.9,239.1 L333.5,209.7 L334.0,180.7 L334.7,209.7 L335.4,225.9 L336.5,209.7 L337.6,230.3 L338.8,211.2 L339.9,214.1 L340.9,203.8 L341.8,197.9 L341.8,198.4 L342.8,203.5 L344.3,180.7 L345.3,199.1 L346.5,190.3 L347.6,194.7 L349.4,169.7 L350.6,166.8 L351.6,136.6 L352.6,174.1 L353.5,172.6 L354.1,194.7 L355.3,203.5 L356.5,181.5 L357.9,158.7 L359.0,181.5 L360.4,200.6 L360.4,206.8 L361.2,218.5 L362.4,211.2 L362.9,222.9 L364.1,209.7 L364.9,220.0 L365.6,209.7 L366.8,251.6 L367.4,224.4 L367.8,203.8 L367.1,202.1 L368.5,188.8 L370.0,174.1 L371.5,157.9 L372.6,166.8 L373.7,172.6 L374.7,162.4 L375.6,155.0 L376.6,178.5 L377.6,175.6 L378.5,171.2 L379.4,162.4 L380.3,182.9 L381.5,169.7 L382.5,187.4 L382.5,187.1 L383.8,194.1 L384.6,160.8 L386.2,144.6 L387.8,130.4 L389.2,122.4 L391.2,110.2 L392.2,111.2 L393.3,130.4 L393.9,148.6 L395.3,140.6 L396.3,132.5 L397.3,138.5 L398.3,130.4 L399.9,148.6 L401.3,111.2 L402.4,130.4 L403.4,148.6 L404.4,154.7 L406.0,148.6 L406.8,136.5 L408.0,146.6 L409.0,130.4 L410.4,148.6 L411.5,179.0 L412.5,136.5 L413.5,138.5 L414.9,156.7 L416.5,174.9 L417.5,183.0 L418.5,162.8 L419.5,174.9 L420.6,193.1 L422.2,193.1 L423.6,158.8 L424.6,177.0 L425.6,194.1" fill="none" stroke="#2a83c6" stroke-width="1.8" stroke-linejoin="round"/>
<path d="M125.4,391.5 L126.4,385.5 L127.4,380.5 L128.4,376.5 L129.4,373.1 L130.4,370.8 L131.4,368.6 L132.4,366.9 L133.4,366.1 L134.4,365.2 L135.4,366.3 L136.4,368.1 L137.4,370.0 L138.4,372.7 L139.4,375.3 L140.4,376.5 L141.4,377.7 L142.4,378.9 L143.4,379.5 L144.4,380.0 L145.4,380.6 L146.4,380.8 L147.4,380.8 L148.4,380.9 L149.4,381.3 L150.4,381.9 L151.4,382.4 L152.4,383.0 L153.4,383.7 L154.4,384.4 L155.4,385.1 L156.4,385.7 L157.4,386.3 L158.4,386.9 L159.4,387.4 L160.4,387.9 L161.4,388.4 L162.4,388.7 L163.4,389.1 L164.4,389.4 L165.4,389.6 L166.4,389.6 L167.4,389.6 L168.4,389.5 L169.4,389.4 L170.4,389.2 L171.4,389.0 L172.4,388.7 L173.4,388.4 L174.4,388.1 L175.4,387.8 L176.4,387.6 L177.4,387.3 L178.4,387.1 L179.4,386.8 L180.4,386.6 L181.4,386.3 L182.4,386.1 L183.4,385.8 L184.4,385.6 L185.4,385.3 L186.4,385.1 L187.4,384.9 L188.4,384.7 L189.4,384.5 L190.4,384.3 L191.4,384.1 L192.4,383.9 L193.4,383.7 L194.4,383.6 L195.4,383.3 L196.4,383.1 L197.4,382.9 L198.4,382.6 L199.4,382.3 L200.4,382.0 L201.4,381.7 L202.4,381.4 L203.4,381.1 L204.4,380.7 L205.4,380.4 L206.4,380.1 L207.4,379.7 L208.4,379.4 L209.4,379.1 L210.4,378.7 L211.4,378.4 L212.4,378.1 L213.4,377.8 L214.4,377.5 L215.4,377.2 L216.4,376.9 L217.4,376.6 L218.4,376.4 L219.4,376.1 L220.4,375.9 L221.4,375.6 L222.4,375.4 L223.4,375.2 L224.4,375.0 L225.4,374.9 L226.4,374.7 L227.4,374.5 L228.4,374.4 L229.4,374.2 L230.4,374.1 L231.4,374.0 L232.4,373.8 L233.4,373.7 L234.4,373.6 L235.4,373.5 L236.4,373.4 L237.4,373.3 L238.4,373.2 L239.4,373.1 L240.4,373.0 L241.4,372.9 L242.4,372.8 L243.4,372.6 L244.4,372.5 L245.4,372.4 L246.4,372.2 L247.4,372.1 L248.4,372.0 L249.4,371.9 L250.4,371.7 L251.4,371.6 L252.4,371.5 L253.4,371.4 L254.4,371.2 L255.4,371.1 L256.4,370.9 L257.4,370.8 L258.4,370.6 L259.4,370.4 L260.4,370.2 L261.4,370.0 L262.4,369.8 L263.4,369.6 L264.4,369.4 L265.4,369.2 L266.4,369.0 L267.4,368.9 L268.4,368.8 L269.4,368.6 L270.4,368.5 L271.4,368.4 L272.4,368.3 L273.4,368.2 L274.4,368.1 L275.4,368.0 L276.4,367.9 L277.4,367.8 L278.4,367.7 L279.4,367.6 L280.4,367.6 L281.4,367.5 L282.4,367.4 L283.4,367.4 L284.4,367.3 L285.4,367.3 L286.4,367.3 L287.4,367.2 L288.4,367.1 L289.4,367.0 L290.4,366.8 L291.4,366.6 L292.4,366.4 L293.4,366.2 L294.4,365.9 L295.4,365.6 L296.4,365.3 L297.4,365.1 L298.4,364.8 L299.4,364.5 L300.4,364.3 L301.4,364.1 L302.4,363.8 L303.4,363.6 L304.4,363.4 L305.4,363.2 L306.4,362.9 L307.4,362.7 L308.4,362.5 L309.4,362.3 L310.4,362.1 L311.4,361.9 L312.4,361.7 L313.4,361.4 L314.4,361.2 L315.4,360.9 L316.4,360.6 L317.4,360.3 L318.4,360.0 L319.4,359.7 L320.4,359.4 L321.4,359.1 L322.4,358.8 L323.4,358.6 L324.4,358.3 L325.4,358.0 L326.4,357.7 L327.4,357.5 L328.4,357.2 L329.4,357.0 L330.4,356.6 L331.4,356.2 L332.4,355.8 L333.4,355.3 L334.4,354.7 L335.4,354.1 L336.4,353.5 L337.4,352.7 L338.4,352.0 L339.4,351.2 L340.4,350.5 L341.4,349.8 L342.4,349.1 L343.4,348.4 L344.4,347.7 L345.4,347.0 L346.4,346.3 L347.4,345.7 L348.4,345.1 L349.4,344.5 L350.4,343.9 L351.4,343.3 L352.4,342.8 L353.4,342.2 L354.4,341.7 L355.4,341.2 L356.4,340.8 L357.4,340.3 L358.4,339.8 L359.4,339.3 L360.4,338.8 L361.4,338.3 L362.4,337.8 L363.4,337.3 L364.4,336.8 L365.4,336.3 L366.4,335.8 L367.4,335.2 L368.4,334.6 L369.4,334.0 L370.4,333.4 L371.4,332.7 L372.4,332.0 L373.4,331.2 L374.4,330.4 L375.4,329.6 L376.4,328.8 L377.4,328.1 L378.4,327.3 L379.4,326.5 L380.4,325.7 L381.4,324.9 L382.4,324.2 L383.4,323.4 L384.4,322.6 L385.4,321.9 L386.4,321.1 L387.4,320.3 L388.4,319.6 L389.4,318.8 L390.4,318.1 L391.4,317.4 L392.4,316.6 L393.4,315.9 L394.4,315.2 L395.4,314.6 L396.4,313.9 L397.4,313.2 L398.4,312.6 L399.4,311.9 L400.4,311.3 L401.4,310.7 L402.4,310.1 L403.4,309.4 L404.4,308.8 L405.4,308.2 L406.4,307.6 L407.4,307.1 L408.4,306.5 L409.4,306.0 L410.4,305.5 L411.4,305.0 L412.4,304.6 L413.4,304.1 L414.4,303.7 L415.4,303.3 L416.4,303.0 L417.4,302.6 L418.4,302.2 L419.4,301.9 L420.4,301.5 L421.4,301.2 L422.4,300.9 L423.4,300.7 L424.4,300.4 L425.4,300.3" fill="none" stroke="#111" stroke-width="1.5" stroke-linejoin="round"/>
<!-- crosshair -->
<path d="M79,111.9H633" stroke="#2a2a2a" stroke-width="1.25" stroke-dasharray="3.6,2.6" fill="none"/>
<path d="M392.7,96V544" stroke="#2a2a2a" stroke-width="1.25" stroke-dasharray="3.6,2.6" fill="none"/>
<!-- crosshair labels -->
<rect x="11" y="102.7" width="68" height="16.8" fill="#444"/>
<text x="78.3" y="116.6" text-anchor="end" fill="#fff" stroke="#fff" stroke-width="0.35">80.070</text>
<rect x="325.6" y="433" width="134.4" height="18.4" fill="#444"/>
<g stroke="#fff" stroke-width="0.35"><g font-size="14.4" fill="#fff" stroke="#fff" stroke-width="0.3"><text x="328.6" y="447.1" textLength="78.3" lengthAdjust="spacing">2018/05/17/</text><text x="407.0" y="447.1">四</text><text x="420.90000000000003" y="447.1">19:32</text></g></g>
<!-- tooltip -->
<rect x="91" y="97.7" width="174.3" height="103.8" fill="#fff" stroke="#1a1a1a" stroke-width="1.4"/>
<g font-size="15.2">
<text x="178.5" y="114" text-anchor="middle" fill="#111" font-size="14.7" stroke="#111" stroke-width="0.3">布伦特原油</text>
<g font-size="15.2" fill="#111" stroke="#111" stroke-width="0.3"><text x="109.4" y="134.6" textLength="85.2" lengthAdjust="spacing">2018/05/17/</text><text x="194.7" y="134.6">四</text><text x="209.3" y="134.6">19:32</text></g>
<text x="94" y="153.8" fill="#111" font-size="14.6" stroke="#111" stroke-width="0.3">价格</text>
<text x="94" y="173.8" fill="#111" font-size="14.6" stroke="#111" stroke-width="0.3">均价</text>
<text x="94" y="193.8" fill="#111" font-size="14.6" stroke="#111" stroke-width="0.3">涨跌</text>
<text x="263" y="154.1" text-anchor="end" fill="#d0222a" stroke="#d0222a" stroke-width="0.3">80.070</text>
<text x="263" y="174.1" text-anchor="end" fill="#d0222a" stroke="#d0222a" stroke-width="0.3">79.496</text>
<text x="263" y="194.1" text-anchor="end" fill="#d0222a" stroke="#d0222a" stroke-width="0.3">0.790(1.00%)</text>
</g>
<!-- bottom range bar -->
<rect x="79" y="540" width="29" height="4" fill="#f0f0f0"/>
<rect x="110" y="540" width="25" height="4" fill="#f0f0f0"/>
<rect x="147" y="540" width="460" height="4" fill="#dddddd"/>
<rect x="224" y="540" width="76.5" height="4" fill="#444"/>
<path d="M377.5,540V544 M454,540V544 M530.5,540V544" stroke="#fff" stroke-width="1.2"/>
</svg>
</body></html>
